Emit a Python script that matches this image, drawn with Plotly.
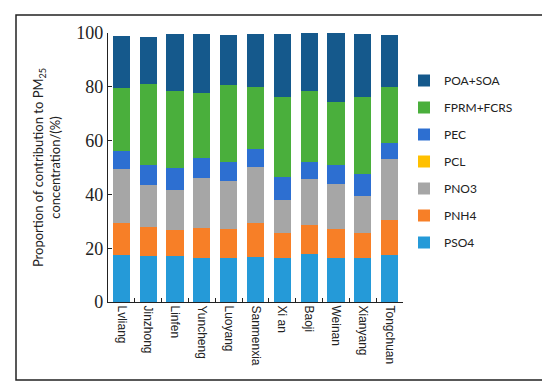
import plotly.graph_objects as go

cities = ["Lvliang", "Jinzhong", "Linfen", "Yuncheng", "Luoyang", "Sanmenxia",
          "Xi an", "Baoji", "Weinan", "Xianyang", "Tongchuan"]

PSO4 = [17.5, 17.2, 17.0, 16.4, 16.4, 16.7, 16.4, 18.0, 16.4, 16.4, 17.4]
PNH4 = [11.8, 10.7, 9.9, 11.1, 10.7, 12.7, 9.1, 10.7, 10.7, 9.1, 13.1]
PNO3 = [20.1, 15.7, 14.7, 18.6, 17.8, 20.9, 12.5, 17.1, 16.7, 14.0, 22.8]
PCL = [0.0, 0.0, 0.0, 0.0, 0.0, 0.0, 0.0, 0.0, 0.0, 0.0, 0.0]
PEC = [6.6, 7.2, 8.2, 7.4, 7.1, 6.6, 8.3, 6.2, 7.0, 8.0, 5.9]
FPRM_FCRS = [23.4, 30.2, 28.7, 24.2, 28.5, 22.9, 29.8, 26.6, 23.5, 28.6, 20.7]
POA_SOA = [19.4, 17.4, 21.2, 22.0, 18.9, 19.9, 23.6, 21.4, 25.7, 23.6, 19.5]

series = [
    ("PSO4", PSO4, "#259ad8"),
    ("PNH4", PNH4, "#f77f27"),
    ("PNO3", PNO3, "#a6a6a6"),
    ("PCL", PCL, "#ffc000"),
    ("PEC", PEC, "#2d6fd1"),
    ("FPRM+FCRS", FPRM_FCRS, "#4aaf3c"),
    ("POA+SOA", POA_SOA, "#15598c"),
]

W, H = 550, 381
ML, MR, MT, MB = 100, 155, 25, 87
PW, PH = W - ML - MR, H - MT - MB

fig = go.Figure()
n = len(series)
for i, (name, vals, col) in enumerate(series):
    fig.add_trace(go.Bar(x=cities, y=vals, name=name, marker_color=col,
                         marker_line_width=0, legendgroup=f"g{i}",
                         legendrank=(n - i) * 10))

def px_x(p):
    return (p - ML) / PW

def px_y(p):
    return (H - MB - p) / PH

fig.add_shape(type="rect", xref="paper", yref="paper",
              x0=px_x(8), x1=px_x(543), y0=px_y(372), y1=px_y(7),
              line=dict(color="#222", width=1.5), fillcolor="rgba(0,0,0,0)")

fig.update_layout(
    width=W, height=H,
    margin=dict(l=ML, r=MR, t=MT, b=MB),
    barmode="stack", bargap=0.36,
    paper_bgcolor="white", plot_bgcolor="white",
    showlegend=True,
    legend=dict(x=px_x(396), y=px_y(58), xanchor="left", yanchor="top",
                traceorder="grouped", tracegroupgap=8,
                font=dict(family="Lato", size=12, color="#222"),
                itemwidth=30, bgcolor="rgba(0,0,0,0)"),
    xaxis=dict(showline=True, linecolor="#222", linewidth=1.2,
               ticks="inside", ticklen=4, tickcolor="#222", tickson="boundaries",
               tickangle=90, tickfont=dict(family="Liberation Sans", size=12, color="#222"),
               showgrid=False, mirror=False),
    yaxis=dict(range=[0, 100], tickvals=[0, 20, 40, 60, 80, 100],
               showline=True, linecolor="#222", linewidth=1.2,
               ticks="inside", ticklen=4, tickcolor="#222",
               tickfont=dict(family="Liberation Serif", size=18, color="#222"),
               showgrid=False, zeroline=False,
               title=dict(text="Proportion of contribution to PM<sub>25</sub><br>concentration/(%)",
                          font=dict(family="Lato", size=13, color="#222"), standoff=12)),
)

fig.write_html("out.html")
